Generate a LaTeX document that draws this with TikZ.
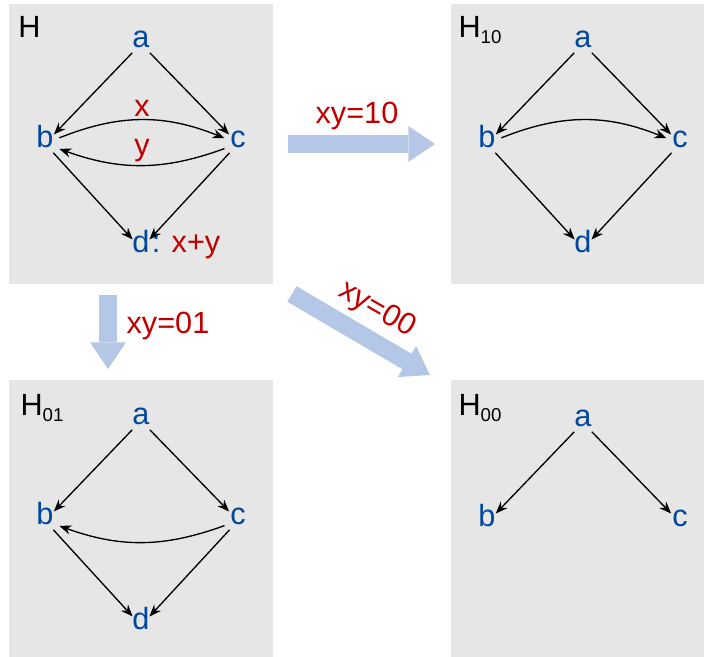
\documentclass[tikz,border=0pt]{standalone}
\usepackage{fontspec}
\setmainfont{Liberation Sans}
\usetikzlibrary{arrows.meta}
\definecolor{nodeblue}{RGB}{0,72,158}
\definecolor{labred}{RGB}{192,0,0}
\definecolor{panelgray}{RGB}{230,230,230}
\definecolor{arrowblue}{RGB}{180,199,231}
\newcommand{\hsub}[1]{\raisebox{-4.5pt}{\fontsize{14}{16}\selectfont #1}}
\tikzset{every picture/.style={line width=0.75pt},
  vtx/.style={font=\fontsize{23}{27}\selectfont, text=nodeblue, anchor=base,
    inner sep=4pt, text height=0.5em, text depth=0pt},
  hlab/.style={font=\fontsize{23}{27}\selectfont, anchor=base west, inner sep=0pt},
  elab/.style={font=\fontsize{23}{27}\selectfont, text=labred, inner sep=2pt},
  edge/.style={line width=1pt, -{Stealth[length=9pt,width=7pt]}},
  bigarrow/.style={arrowblue, line width=13.5pt,
    -{Triangle[length=20pt,width=27pt,line width=0pt]}}}

\begin{document}
\begin{tikzpicture}[x=0.75pt,y=0.75pt,yscale=-1,xscale=1]
\useasboundingbox (0,0) rectangle (704,657);
% H
\fill[panelgray] (9,4) rectangle (273,284);
\node[hlab] (hH) at (18,37) {H};
\node[vtx] (a) at (141,47) {a};
\node[vtx] (b) at (45,147) {b};
\node[vtx] (c) at (238,147) {c};
\node[vtx] (d) at (141,252) {d};
\node[elab, anchor=base west, inner sep=0pt] (dsum) at ([xshift=-3pt]d.base east) {\textcolor{nodeblue}{:} x+y};
\draw[edge] (a) -- (b);
\draw[edge] (a) -- (c);
\draw[edge] (b) -- (d);
\draw[edge] (c) -- (d);
\draw[edge] (b) to[bend right=22] node[elab, above] {x} (c);
\draw[edge] (c) to[bend right=20] node[elab, above] {y} (b);
% H_10
\fill[panelgray] (451,4) rectangle (704,284);
\node[hlab] (h10) at (458,37) {H\hsub{10}};
\node[vtx] (a10) at (583,47) {a};
\node[vtx] (b10) at (487,147) {b};
\node[vtx] (c10) at (680,147) {c};
\node[vtx] (d10) at (583,252) {d};
\draw[edge] (a10) -- (b10);
\draw[edge] (a10) -- (c10);
\draw[edge] (b10) -- (d10);
\draw[edge] (c10) -- (d10);
\draw[edge] (b10) to[bend right=22] (c10);
% H_01
\fill[panelgray] (9,380) rectangle (273,657);
\node[hlab] (h01) at (20,415) {H\hsub{01}};
\node[vtx] (a01) at (141,424) {a};
\node[vtx] (b01) at (45,524) {b};
\node[vtx] (c01) at (238,524) {c};
\node[vtx] (d01) at (141,629) {d};
\draw[edge] (a01) -- (b01);
\draw[edge] (a01) -- (c01);
\draw[edge] (b01) -- (d01);
\draw[edge] (c01) -- (d01);
\draw[edge] (c01) to[bend right=20] (b01);
% H_00
\fill[panelgray] (451,380) rectangle (704,657);
\node[hlab] (h00) at (458,415) {H\hsub{00}};
\node[vtx] (a00) at (583,426) {a};
\node[vtx] (b00) at (487,526) {b};
\node[vtx] (c00) at (680,526) {c};
\draw[edge] (a00) -- (b00);
\draw[edge] (a00) -- (c00);
% restrictions
\coordinate (r0) at (288,144);
\coordinate (r1) at (435,144);
\coordinate (s0) at (108,295);
\coordinate (s1) at (108,369);
\coordinate (q0) at (292,294);
\coordinate (q1) at (430,375);
\draw[bigarrow] (r0) -- (r1);
\draw[bigarrow] (s0) -- (s1);
\draw[bigarrow] (q0) -- (q1);
\node[elab] (l10) at (357,116) {xy=10};
\node[elab] (l01) at (168,326) {xy=01};
\node[elab, rotate=-30] (l00) at (377,310) {xy=00};
\end{tikzpicture}
\end{document}
